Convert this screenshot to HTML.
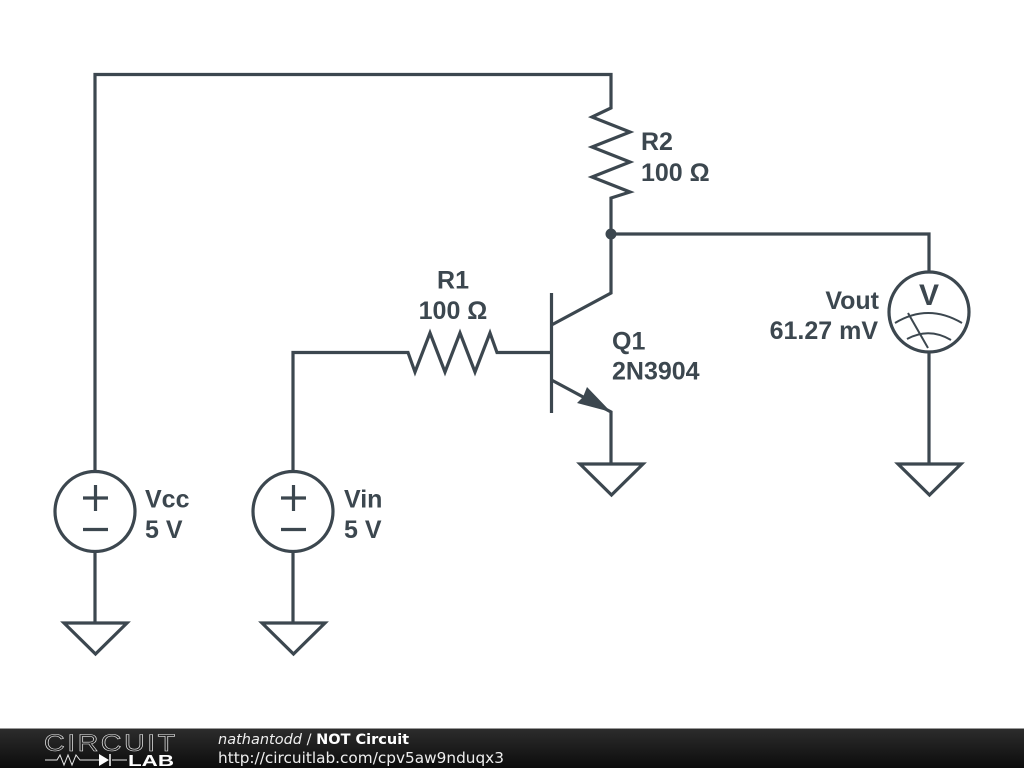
<!DOCTYPE html>
<html><head><meta charset="utf-8"><style>
html,body{margin:0;padding:0;background:#fff;width:1024px;height:768px;overflow:hidden}
svg{display:block}
</style></head><body>
<svg width="1024" height="768" viewBox="0 0 1024 768" xmlns="http://www.w3.org/2000/svg">
<defs><linearGradient id="f" x1="0" y1="0" x2="0" y2="1"><stop offset="0" stop-color="#2c2c2c"/><stop offset="1" stop-color="#0c0c0c"/></linearGradient></defs>
<rect width="1024" height="768" fill="#fff"/>
<g fill="none" stroke="#3c474f" stroke-width="3.200" stroke-linejoin="miter" stroke-linecap="butt">
<polyline points="95,472 95,74.500 611,74.500 611,108 592,117 630,132 592,147 630,162 592,177 630,192 611,198 611,293 551.500,325"/>
<polyline points="611,234 929,234 929,272"/>
<polyline points="293,472 293,352.500 408,352.500 415,372 430,333 445,372 460,333 475,372 490,333 497,352.500 551,352.500"/>
<line x1="551.500" y1="293" x2="551.500" y2="413"/>
<polyline points="551.500,380 611,412 611,464"/>
<circle cx="95" cy="511.500" r="40"/>
<circle cx="293" cy="511.500" r="40"/>
<circle cx="929" cy="312" r="40"/>
<path d="M83 498H108M95.500 485V511M83 529.500H108"/>
<path d="M281 498H306M293.500 485V511M281 529.500H306"/>
<line x1="95" y1="551" x2="95" y2="623"/>
<line x1="293" y1="551" x2="293" y2="623"/>
<line x1="929" y1="352" x2="929" y2="464"/>
<polygon points="64,623 127,623 95.500,654"/>
<polygon points="262,623 325,623 293.500,654"/>
<polygon points="580,464 643,464 611.500,495"/>
<polygon points="898,464 961,464 929.500,495"/>
<g stroke-width="2">
<path d="M895 323Q928 303 962 323"/>
<path d="M907 339Q929 327 951 340"/>
<line x1="908" y1="313" x2="928" y2="348"/>
</g>
</g>
<circle cx="611" cy="234" r="5.500" fill="#3c474f"/>
<polygon points="611,412 587,387 583,397 577,403" fill="#3c474f"/>
<g font-family="'Liberation Sans',sans-serif" font-weight="700" font-size="25" fill="#3c474f">
<text x="641" y="150">R2</text>
<text x="641" y="181">100 Ω</text>
<text x="453" y="288.500" text-anchor="middle">R1</text>
<text x="453" y="319" text-anchor="middle">100 Ω</text>
<text x="612" y="349.500">Q1</text>
<text x="612" y="379.500">2N3904</text>
<text x="145" y="507.500">Vcc</text>
<text x="145" y="538">5 V</text>
<text x="344" y="507.500">Vin</text>
<text x="344" y="538">5 V</text>
<text x="879" y="309" text-anchor="end">Vout</text>
<text x="878" y="339" text-anchor="end">61.27 mV</text>
<text x="929" y="305" text-anchor="middle" font-size="30">V</text>
</g>
<rect x="0" y="729" width="1024" height="39" fill="url(#f)"/>
<rect x="0" y="728" width="1024" height="1" fill="#999"/>
<text transform="translate(44 751) scale(1.200 1)" font-family="'Liberation Sans',sans-serif" font-size="24" letter-spacing="2" fill="none" stroke="#e8e8e8" stroke-width="0.600">CIRCUIT</text>
<text x="128" y="766" font-family="'Liberation Sans',sans-serif" font-weight="700" font-size="16" fill="#fff" textLength="46" lengthAdjust="spacingAndGlyphs">LAB</text>
<path d="M45 760H57L60 755 64 765 68 755 72 765 76 755 80 760H99M112 760H127" fill="none" stroke="#e8e8e8" stroke-width="1"/>
<path d="M99 754L109 760 99 766Z" fill="#fff"/>
<path d="M110 754V766" stroke="#fff" stroke-width="1.500"/>
<g font-family="'DejaVu Sans',sans-serif" font-size="14.500" fill="#eee">
<text x="218" y="744"><tspan font-style="italic">nathantodd</tspan> / <tspan font-weight="700" fill="#fff">NOT Circuit</tspan></text>
<text x="218" y="763" font-size="15.300">http://circuitlab.com/cpv5aw9nduqx3</text>
</g>
</svg>
</body></html>
